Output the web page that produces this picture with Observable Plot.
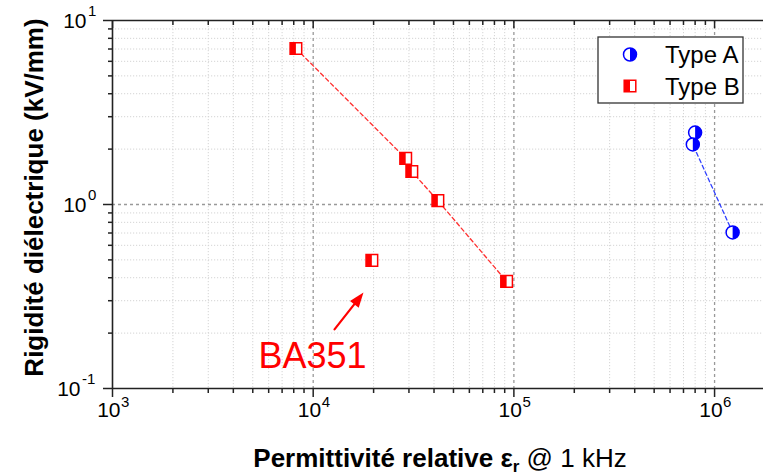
<!DOCTYPE html>
<html><head><meta charset="utf-8">
<script src="https://cdn.jsdelivr.net/npm/d3@7"></script>
<script src="https://cdn.jsdelivr.net/npm/@observablehq/plot@0.6"></script>
<style>body{margin:0;background:#fff;} #chart{position:relative;width:763px;height:475px;}</style>
</head><body><div id="chart"></div>
<script>
// ---- data ----
const typeA_x = [8.0e5, 7.79e5, 1.23e6];
const typeA_y = [2.46, 2.12, 0.705];
const typeB_x = [8.2e3, 2.89e4, 3.1e4, 4.18e4, 9.2e4];
const typeB_y = [7.05, 1.78, 1.51, 1.05, 0.382];
const ba351_x = [1.96e4];
const ba351_y = [0.497];
const ba351_label = ["BA351"];
const arrow_from = [1.277e4, 0.2094];
const arrow_to = [1.781e4, 0.3325];
const label_at = [5340, 0.1285];
const xMajor = [1e3, 1e4, 1e5, 1e6];
const xExp = ["3", "4", "5", "6"];
const yMajor = [0.1, 1, 10];
const yExp = ["-1", "0", "1"];
const seriesNames = ["Type A", "Type B"];
const xTitle = ["Permittivité relative ε", "r", " @ 1 kHz"];
const yTitle = "Rigidité diélectrique (kV/mm)";

// ---- derived ----
const xMinor = [1e3, 1e4, 1e5].flatMap(d => [2,3,4,5,6,7,8,9].map(k => k * d));
const yMinor = [0.1, 1].flatMap(d => [2,3,4,5,6,7,8,9].map(k => k * d));
const A = typeA_x.map((x, i) => ({x, y: typeA_y[i]}));
const B = typeB_x.map((x, i) => ({x, y: typeB_y[i]}));
const BA = ba351_x.map((x, i) => ({x, y: ba351_y[i]}));
const xLab = xMajor.map((v, i) => ({v, e: xExp[i]}));
const yLab = yMajor.map((v, i) => ({v, e: yExp[i]}));

const RED = "#ff0000", BLUE = "#0000ff";
const FONT = "'Liberation Sans', Arial, sans-serif";

const sq = 5.8, cr = 6.5;
const halfSquare = {draw(c) { c.rect(-sq, -sq, sq, 2 * sq); }};
const fullSquare = {draw(c) { c.rect(-sq, -sq, 2 * sq, 2 * sq); }};
const halfCircle = {draw(c) { c.moveTo(0, -cr); c.arc(0, 0, cr, -Math.PI / 2, Math.PI / 2); c.closePath(); }};
const fullCircle = {draw(c) { c.moveTo(cr, 0); c.arc(0, 0, cr, 0, 2 * Math.PI); c.closePath(); }};
const head = {draw(c) { c.moveTo(0, 0); c.lineTo(5.5, 15); c.lineTo(-5.5, 15); c.closePath(); }};

const angle = 37.6;

const chart = Plot.plot({
  width: 763, height: 475,
  marginLeft: 112, marginRight: 0, marginTop: 20, marginBottom: 87,
  style: {fontFamily: FONT, fontSize: "21px", background: "#fff", color: "#000"},
  x: {type: "log", domain: [1e3, 1.753e6], axis: null},
  y: {type: "log", domain: [0.1, 10], axis: null},
  marks: [
    Plot.ruleX(xMinor, {stroke: "#d4d4d4", strokeDasharray: "1.2,1.8", strokeWidth: 1}),
    Plot.ruleY(yMinor, {stroke: "#d4d4d4", strokeDasharray: "1.2,1.8", strokeWidth: 1}),
    Plot.ruleX(xMajor.slice(1), {stroke: "#999", strokeDasharray: "3,3", strokeWidth: 1.3}),
    Plot.ruleY([1], {stroke: "#999", strokeDasharray: "3,3", strokeWidth: 1.3}),
    // axis ticks
    Plot.axisX(xMinor, {anchor: "bottom", tickSize: 5, tickFormat: () => "", label: null, color: "#222", strokeWidth: 1.5}),
    Plot.axisX(xMajor, {anchor: "bottom", tickSize: 9, tickFormat: () => "", label: null, color: "#222", strokeWidth: 1.5}),
    Plot.axisX(xMinor, {anchor: "top", tickSize: -4, tickFormat: () => "", label: null, color: "#222", strokeWidth: 1.5}),
    Plot.axisX(xMajor, {anchor: "top", tickSize: -7, tickFormat: () => "", label: null, color: "#222", strokeWidth: 1.5}),
    Plot.axisY(yMinor, {anchor: "left", tickSize: 4, tickFormat: () => "", label: null, color: "#222", strokeWidth: 1.5}),
    Plot.axisY(yMajor, {anchor: "left", tickSize: 9, tickFormat: () => "", label: null, color: "#222", strokeWidth: 1.5}),
    // frame lines
    Plot.ruleY([0.1, 10], {stroke: "#222", strokeWidth: 1.6}),
    Plot.ruleX([1e3], {stroke: "#222", strokeWidth: 1.6}),
    // tick labels
    Plot.text(xLab, {x: "v", text: () => "10", frameAnchor: "bottom", dy: 28, dx: 8, textAnchor: "end", fontSize: 21, fill: "#000"}),
    Plot.text(xLab, {x: "v", text: "e", frameAnchor: "bottom", dy: 18, dx: 8.5, textAnchor: "start", fontSize: 15, fill: "#000"}),
    ...yLab.flatMap(d => {
      const neg = d.e.length > 1;
      return [
        Plot.text([d], {y: "v", text: () => "10", frameAnchor: "left", dx: neg ? -32 : -26, dy: 1, textAnchor: "end", fontSize: 21, fill: "#000"}),
        Plot.text([d], {y: "v", text: "e", frameAnchor: "left", dx: neg ? -30.5 : -24.5, dy: -9, textAnchor: "start", fontSize: 15, fill: "#000"})
      ];
    }),
    // y title
    Plot.text([yTitle], {text: d => d, frameAnchor: "left", dx: -78, dy: -7, rotate: -90, textAnchor: "middle", fontSize: 26, fontWeight: "bold", fill: "#000"}),
    // series lines
    Plot.line(B, {x: "x", y: "y", stroke: "#ff3030", strokeWidth: 1.3, strokeDasharray: "4,3"}),
    Plot.line(A, {x: "x", y: "y", stroke: "#3040ff", strokeWidth: 1.3, strokeDasharray: "4,3"}),
    // Type B markers
    Plot.dot(B.concat(BA), {x: "x", y: "y", symbol: fullSquare, fill: "#fff", stroke: RED, strokeWidth: 1.5}),
    Plot.dot(B.concat(BA), {x: "x", y: "y", symbol: halfSquare, fill: RED, stroke: "none"}),
    // Type A markers (one pair per point so overlaps stack like the original)
    ...A.flatMap(d => [
      Plot.dot([d], {x: "x", y: "y", symbol: fullCircle, fill: "#fff", stroke: BLUE, strokeWidth: 1.5}),
      Plot.dot([d], {x: "x", y: "y", symbol: halfCircle, fill: BLUE, stroke: "none"})
    ]),
    // annotation
    Plot.arrow([0], {x1: () => arrow_from[0], y1: () => arrow_from[1], x2: () => arrow_to[0], y2: () => arrow_to[1], stroke: RED, strokeWidth: 2.2, headLength: 0, insetEnd: 9}),
    Plot.dot([0], {x: () => arrow_to[0], y: () => arrow_to[1], symbol: head, rotate: angle, fill: RED, stroke: "none"}),
    Plot.text(ba351_label, {x: () => label_at[0], y: () => label_at[1], text: d => d, textAnchor: "start", lineAnchor: "bottom", fontSize: 36, fill: RED})
  ]
});

const svg = d3.select(chart);
// x title
const xt = svg.append("text")
  .attr("x", 440).attr("y", 467)
  .attr("text-anchor", "middle")
  .attr("font-family", FONT).attr("font-size", 26).attr("fill", "#000");
xt.append("tspan").attr("font-weight", "bold").text(xTitle[0]);
xt.append("tspan").attr("font-weight", "bold").attr("font-size", 17).attr("dy", 5).text(xTitle[1]);
xt.append("tspan").attr("dy", -5).text(xTitle[2]);

// legend
const lg = svg.append("g");
lg.append("rect").attr("x", 598).attr("y", 37).attr("width", 145).attr("height", 66)
  .attr("fill", "#fff").attr("stroke", "#333").attr("stroke-width", 1.3);
const d3path = (sym) => { const p = d3.path(); sym.draw(p); return p.toString(); };
const mA = lg.append("g").attr("transform", "translate(630,54.5)");
mA.append("path").attr("d", d3path(fullCircle)).attr("fill", "#fff").attr("stroke", BLUE).attr("stroke-width", 1.5);
mA.append("path").attr("d", d3path(halfCircle)).attr("fill", BLUE);
const mB = lg.append("g").attr("transform", "translate(630,86)");
mB.append("path").attr("d", d3path(fullSquare)).attr("fill", "#fff").attr("stroke", RED).attr("stroke-width", 1.5);
mB.append("path").attr("d", d3path(halfSquare)).attr("fill", RED);
seriesNames.forEach((n, i) => {
  lg.append("text").attr("x", 665).attr("y", 63 + i * 31.5)
    .attr("text-anchor", "start")
    .attr("font-family", FONT).attr("font-size", 24).attr("fill", "#000").text(n);
});

document.getElementById("chart").appendChild(chart);
</script>
</body></html>
